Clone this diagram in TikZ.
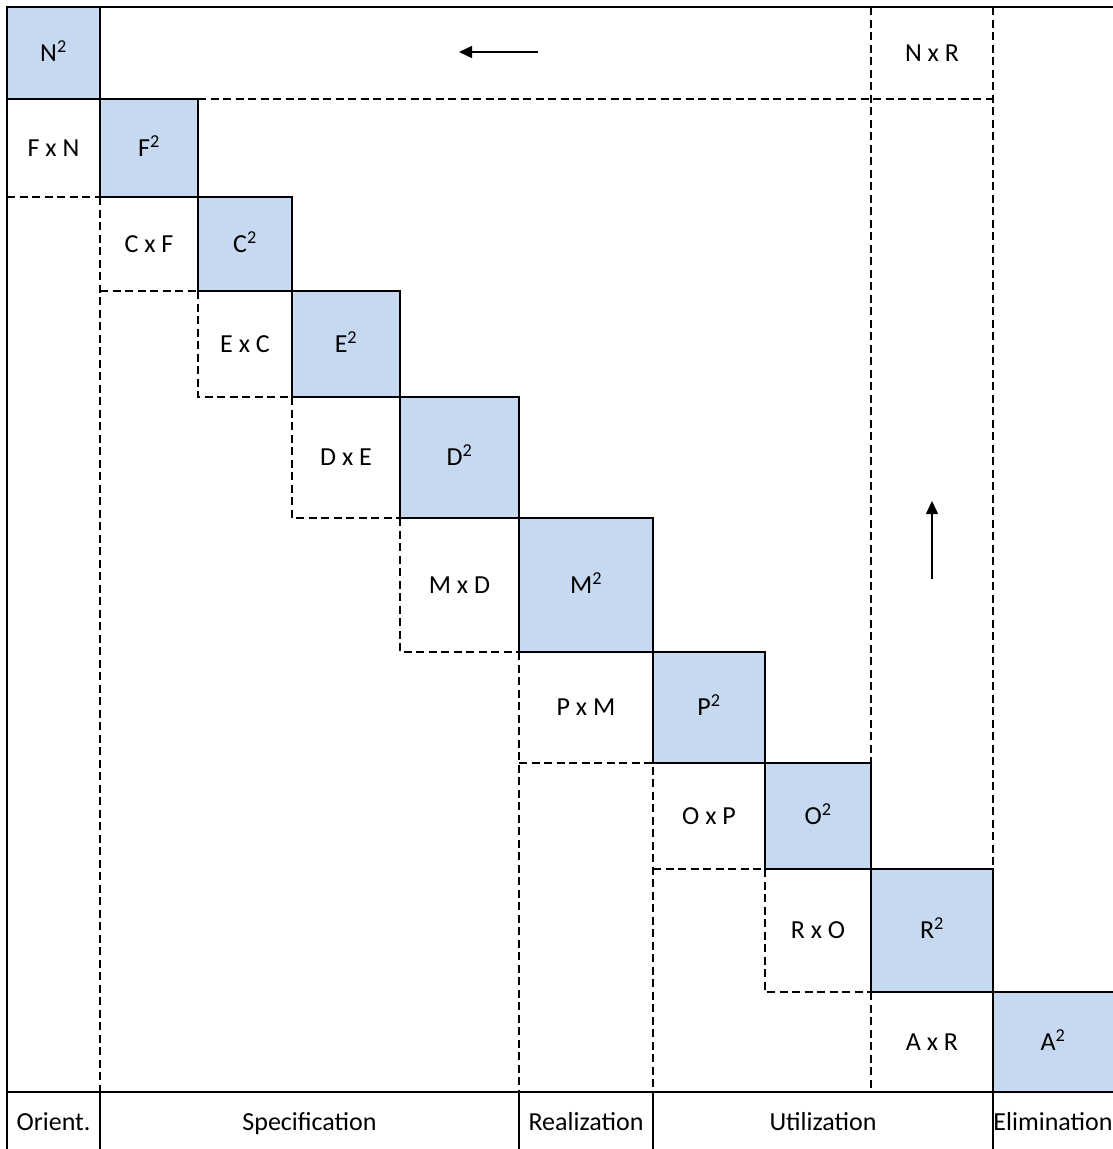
\documentclass[tikz,border=0pt]{standalone}
\usepackage{fontspec}
\setmainfont{Carlito}
\usetikzlibrary{arrows.meta}

\definecolor{cellblue}{RGB}{198,217,240}
\newcommand\lblfont{\fontsize{26}{30}\selectfont}

\tikzset{
  % a cell spanning the corners (x1,y1) and (x2,y2)
  span/.style args={#1/#2/#3/#4}{
    minimum width={(#3)-(#1)}, minimum height={(#4)-(#2)},
    at={({((#1)+(#3))/2},{((#2)+(#4))/2})}},
  % capitals centred in every cell
  lbl/.style={inner sep=0pt, outer sep=0pt, font=\lblfont, text height=16.7pt, text depth=0pt},
  sq/.style={lbl, draw=black, fill=cellblue, line width=1.5pt},
  offcell/.style={lbl},
  phase/.style={lbl},
  gridline/.style={line width=1.4pt, dash pattern=on 8pt off 4.5pt},
  frameline/.style={line width=1.5pt},
  flow/.style={line width=1.4pt, -{Triangle[length=13pt,width=12pt]}}
}

\begin{document}
\begin{tikzpicture}[x=1pt,y=-1pt]
\useasboundingbox (0,0) rectangle (1113,1149);
\clip (0,0) rectangle (1113,1149);
\fill[white] (0,0) rectangle (1113,1149);

% diagonal blocks
\node[sq, span=7/7/100/99]        (N) {N\textsuperscript{2}};
\node[sq, span=100/99/198/197]    (F) {F\textsuperscript{2}};
\node[sq, span=198/197/292/291]   (C) {C\textsuperscript{2}};
\node[sq, span=292/291/400/397]   (E) {E\textsuperscript{2}};
\node[sq, span=400/397/519/518]   (D) {D\textsuperscript{2}};
\node[sq, span=519/518/653/652]   (M) {M\textsuperscript{2}};
\node[sq, span=653/652/765/763]   (P) {P\textsuperscript{2}};
\node[sq, span=765/763/871/869]   (O) {O\textsuperscript{2}};
\node[sq, span=871/869/993/992]   (R) {R\textsuperscript{2}};
\node[sq, draw=none, span=993/992/1113/1092] (A) {A\textsuperscript{2}};
\fill[cellblue] (A.north east) rectangle (1120,1092);

% interface cells
\node[offcell, span=7/99/100/197]     (FN) {F x N};
\node[offcell, span=100/197/198/291]  (CF) {C x F};
\node[offcell, span=198/291/292/397]  (EC) {E x C};
\node[offcell, span=292/397/400/518]  (DE) {D x E};
\node[offcell, span=400/518/519/652]  (MD) {M x D};
\node[offcell, span=519/652/653/763]  (PM) {P x M};
\node[offcell, span=653/763/765/869]  (OP) {O x P};
\node[offcell, span=765/869/871/992]  (RO) {R x O};
\node[offcell, span=871/992/993/1092] (AR) {A x R};
\node[offcell, span=871/7/993/99]     (NR) {N x R};

% phase band
\node[phase, span=7/1092/100/1152]    (bOri)  {Orient.};
\node[phase, span=100/1092/519/1152]  (bSpec) {Specification};
\node[phase, span=519/1092/653/1152]  (bReal) {Realization};
\node[phase, span=653/1092/993/1152]  (bUtil) {Utilization};
\node[phase, span=993/1092/1113/1152] (bElim) {Elimination};
\coordinate (farTop) at (1120,7);
\coordinate (farBand) at (1120,1092);

% dashed partitions
\draw[gridline] (F.north east) -- (NR.south east);
\draw[gridline] (NR.north west) -- (O.north east);
\draw[gridline] (NR.north east) -- (R.north east);
\draw[gridline] (FN.south west) -- (FN.south east);
\draw[gridline] (F.south west) -- (bSpec.north west);
\draw[gridline] (CF.south west) -- (CF.south east);
\draw[gridline] (EC.north west) -- (EC.south west) -- (EC.south east);
\draw[gridline] (DE.north west) -- (DE.south west) -- (DE.south east);
\draw[gridline] (MD.north west) -- (MD.south west) -- (MD.south east);
\draw[gridline] (MD.south east) -- (bReal.north west);
\draw[gridline] (PM.south west) -- (PM.south east) -- (bUtil.north west);
\draw[gridline] (OP.south west) -- (OP.south east);
\draw[gridline] (RO.north west) -- (RO.south west) -- (RO.south east);
\draw[gridline] (AR.north west) -- (AR.south west);

% outer frame and phase band
\draw[frameline] (bOri.south west) -- (N.north west) -- (farTop);
\draw[frameline] (bOri.north west) -- (farBand);
\draw[frameline] (A.south west) -- (A.north west) -- (farBand |- A.north east);
\draw[frameline] (bOri.north east) -- (bOri.south east);
\draw[frameline] (bSpec.north east) -- (bSpec.south east);
\draw[frameline] (bReal.north east) -- (bReal.south east);
\draw[frameline] (bUtil.north east) -- (bUtil.south east);

% direction arrows
\coordinate (h1) at (538,52);
\coordinate (h2) at (459,52);
\draw[flow] (h1) -- (h2);
\coordinate (v1) at (932,579);
\coordinate (v2) at (932,501);
\draw[flow] (v1) -- (v2);
\end{tikzpicture}
\end{document}
